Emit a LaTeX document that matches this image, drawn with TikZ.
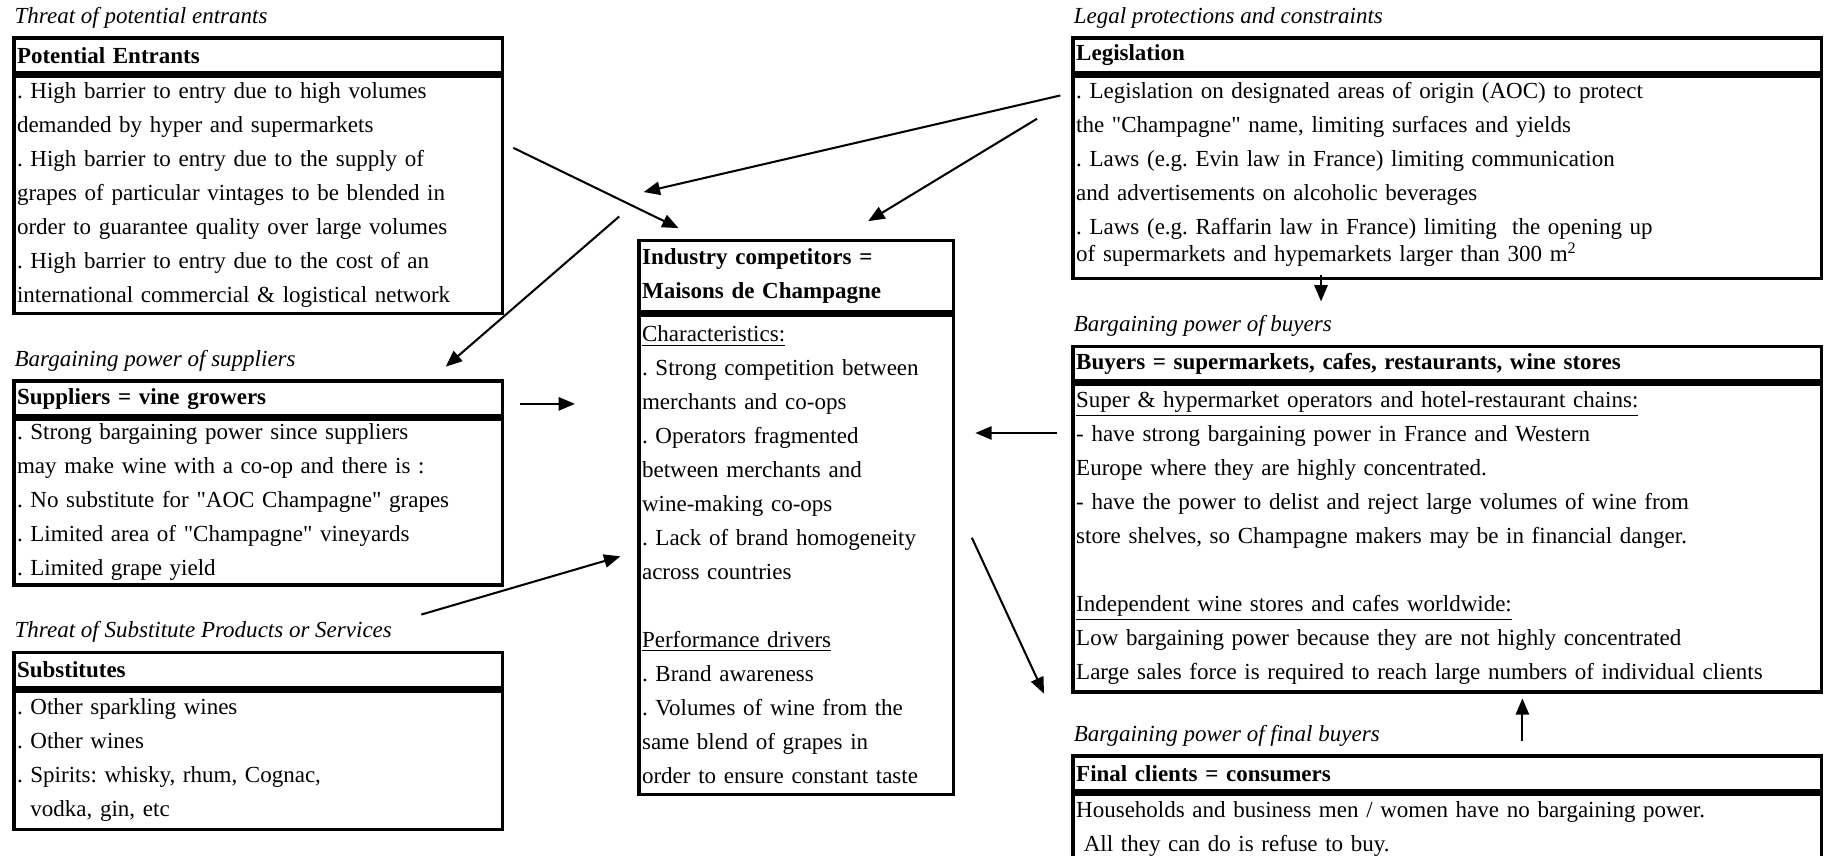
\documentclass[tikz,border=0pt]{standalone}
\usepackage{fontspec}
\setmainfont{Liberation Serif}[Ligatures=TeXOff]
\usepackage{tikz}
\usetikzlibrary{positioning,arrows.meta}
\newcommand\boxfont{\fontsize{11.25}{16.6}\selectfont}
\frenchspacing

\begin{document}
\begin{tikzpicture}[x=0.02cm, y=-0.02cm, font=\boxfont,
    box/.style={draw, line width=1.7pt, anchor=north west, inner xsep=1.5pt, inner ysep=2pt, align=left},
    hdr/.style={box, font=\boxfont\bfseries, minimum height=0.6cm},
    leftcol/.style={text width=8.29cm},
    midcol/.style={text width=5.30cm},
    rightcol/.style={text width=12.76cm},
    lbl/.style={anchor=base west, inner sep=0pt, font=\boxfont\itshape},
    arr/.style={-{Triangle[length=8pt,width=6.5pt]}, line width=1pt}]
    \useasboundingbox (0,0) rectangle (1568,735);

    % left column
    \node[hdr, leftcol] (peh) at (10.5,31) {Potential Entrants};
    \node[box, leftcol, minimum height=4.08cm] (peb) at (peh.south west) {. High barrier to entry due to high volumes\\
      demanded by hyper and supermarkets\\
      . High barrier to entry due to the supply of\\
      grapes of particular vintages to be blended in\\
      order to guarantee quality over large volumes\\
      . High barrier to entry due to the cost of an\\
      international commercial \& logistical network};
    \node[lbl] (pel) at ([shift={(1pt,6.3pt)}]peh.north west) {Threat of potential entrants};

    \node[hdr, leftcol] (suph) at (10.5,326) {Suppliers = vine growers};
    \node[box, leftcol, minimum height=2.84cm] (supb) at (suph.south west) {. Strong bargaining power since suppliers\\
      may make wine with a co-op and there is :\\
      . No substitute for "AOC Champagne" grapes\\
      . Limited area of "Champagne" vineyards\\
      . Limited grape yield};
    \node[lbl] (supl) at ([shift={(1pt,6.3pt)}]suph.north west) {Bargaining power of suppliers};

    \node[hdr, leftcol] (subh) at (10.5,559) {Substitutes};
    \node[box, leftcol, minimum height=2.38cm] (subb) at (subh.south west) {. Other sparkling wines\\
      . Other wines\\
      . Spirits: whisky, rhum, Cognac,\\
      \phantom{. }vodka, gin, etc};
    \node[lbl] (subl) at ([shift={(1pt,6.3pt)}]subh.north west) {Threat of Substitute Products or Services};

    % centre
    \node[hdr, midcol, minimum height=1.22cm] (cmph) at (547.5,205) {Industry competitors =\\ Maisons de Champagne};
    \node[box, midcol, minimum height=8.24cm] (cmpb) at (cmph.south west) {\underline{Characteristics:}\\
      . Strong competition between\\
      merchants and co-ops\\
      . Operators fragmented\\
      between merchants and\\
      wine-making co-ops\\
      . Lack of brand homogeneity\\
      across countries\\
      ~\\
      \underline{Performance drivers}\\
      . Brand awareness\\
      . Volumes of wine from the\\
      same blend of grapes in\\
      order to ensure constant taste};

    % right column
    \node[hdr, rightcol] (legh) at (920.5,31) {Legislation};
    \node[box, rightcol, inner ysep=0pt, minimum height=3.48cm] (legb) at (legh.south west) {. Legislation on designated areas of origin (AOC) to protect\\
      the "Champagne" name, limiting surfaces and yields\\
      . Laws (e.g. Evin law in France) limiting communication\\
      and advertisements on alcoholic beverages\\
      . Laws (e.g. Raffarin law in France) limiting\ \ the opening up\\[-3pt]
      of supermarkets and hypemarkets larger than 300 m\textsuperscript{2}\\[-11.3pt]
      \mbox{}};
    \node[lbl] (legl) at ([shift={(1pt,6.3pt)}]legh.north west) {Legal protections and constraints};

    \node[hdr, rightcol] (buyh) at (920.5,296) {Buyers = supermarkets, cafes, restaurants, wine stores};
    \node[box, rightcol, minimum height=5.28cm] (buyb) at (buyh.south west) {\underline{Super \& hypermarket operators and hotel-restaurant chains:}\\
      - have strong bargaining power in France and Western\\
      Europe where they are highly concentrated.\\
      - have the power to delist and reject large volumes of wine from\\
      store shelves, so Champagne makers may be in financial danger.\\
      ~\\
      \underline{Independent wine stores and cafes worldwide:}\\
      Low bargaining power because they are not highly concentrated\\
      Large sales force is required to reach large numbers of individual clients};
    \node[lbl] (buyl) at ([shift={(1pt,6.3pt)}]buyh.north west) {Bargaining power of buyers};

    \node[hdr, rightcol] (finh) at (920.5,648) {Final clients = consumers};
    \node[box, rightcol, inner ysep=3.5pt] (finb) at (finh.south west) {Households and business men / women have no bargaining power.\\
      \ All they can do is refuse to buy.\\
      ~};
    \node[lbl] (finl) at ([shift={(1pt,6.3pt)}]finh.north west) {Bargaining power of final buyers};

    % forces
    \coordinate (peOut) at (441,127);
    \coordinate (cmpInA) at (583,196);
    \coordinate (cmpOut) at (532,186);
    \coordinate (supIn) at (383,315);
    \coordinate (supOut) at (447,347);
    \coordinate (cmpInB) at (494,347);
    \coordinate (subOut) at (362,528);
    \coordinate (cmpInC) at (533,478);
    \coordinate (legOutA) at (911,82);
    \coordinate (peCmp) at (553,165);
    \coordinate (legOutB) at (891,102);
    \coordinate (cmpInD) at (746,190);
    \coordinate (legOutC) at (1135,236);
    \coordinate (buyIn) at (1135,259);
    \coordinate (buyOut) at (908,372);
    \coordinate (cmpInE) at (838,372);
    \coordinate (cmpOutB) at (835,462);
    \coordinate (finIn) at (897,596);
    \coordinate (finOut) at (1308,637);
    \coordinate (buyInB) at (1308,600);

    \draw[arr] (peOut) -- (cmpInA);
    \draw[arr] (cmpOut) -- (supIn);
    \draw[arr] (supOut) -- (cmpInB);
    \draw[arr] (subOut) -- (cmpInC);
    \draw[arr] (legOutA) -- (peCmp);
    \draw[arr] (legOutB) -- (cmpInD);
    \draw[arr] (legOutC) -- (buyIn);
    \draw[arr] (buyOut) -- (cmpInE);
    \draw[arr] (cmpOutB) -- (finIn);
    \draw[arr] (finOut) -- (buyInB);
\end{tikzpicture}
\end{document}
